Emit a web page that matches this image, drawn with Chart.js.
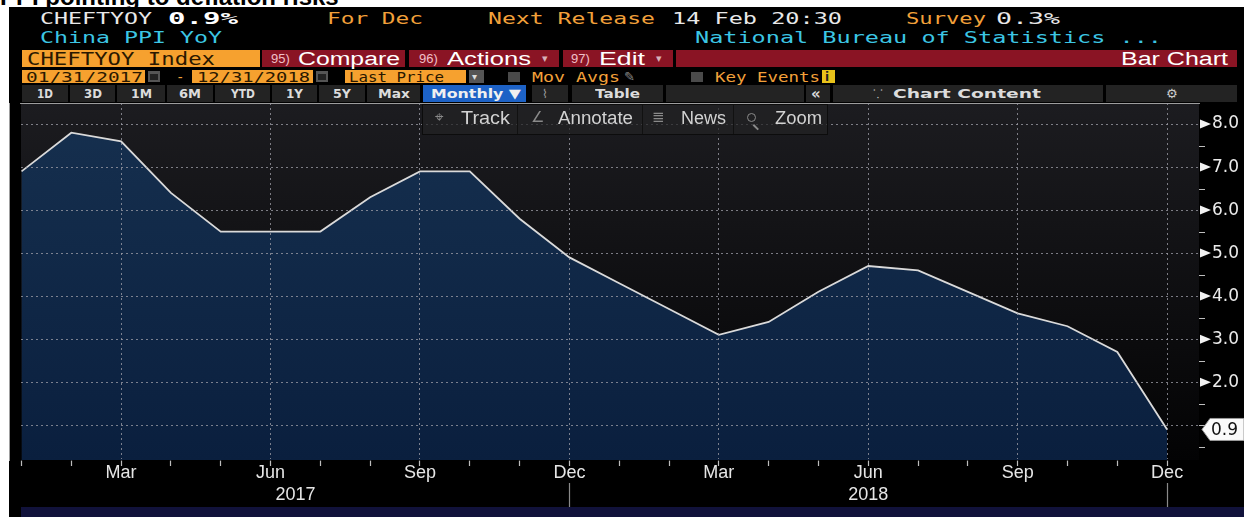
<!DOCTYPE html>
<html><head><meta charset="utf-8">
<script src="https://cdn.jsdelivr.net/npm/chart.js@4"></script>
<style>
html,body{margin:0;padding:0;background:#fff;width:1244px;height:517px;overflow:hidden;position:relative;font-family:"Liberation Sans",Arial,sans-serif}
#title{position:absolute;left:0;top:-15px;font:bold 24px "Liberation Sans",Arial,sans-serif;line-height:24px;color:#000;white-space:nowrap}
#panel{position:absolute;left:9px;top:7px;width:1235px;height:510px;background:#000}
.b{position:absolute}
.t{position:absolute;white-space:nowrap;transform-origin:0 50%}
#cw{position:absolute;left:9px;top:103px;width:1235px;height:404px}
#navy{position:absolute;left:21px;top:507px;width:1223px;height:10px;background:#11123b}
</style></head>
<body>
<div id="title">PPI pointing to deflation risks</div>
<div id="panel"></div>
<div id="hdr"></div>
<div id="cw"><canvas id="c"></canvas></div>
<div id="navy"></div>
<div id="ovl"></div>
<script>
// ---------- data ----------
const categories = ['Jan 2017','Feb 2017','Mar 2017','Apr 2017','May 2017','Jun 2017','Jul 2017','Aug 2017','Sep 2017','Oct 2017','Nov 2017','Dec 2017',
                    'Jan 2018','Feb 2018','Mar 2018','Apr 2018','May 2018','Jun 2018','Jul 2018','Aug 2018','Sep 2018','Oct 2018','Nov 2018','Dec 2018'];
const ppiYoY = [6.9,7.8,7.6,6.4,5.5,5.5,5.5,6.3,6.9,6.9,5.8,4.9,
                4.3,3.7,3.1,3.4,4.1,4.7,4.6,4.1,3.6,3.3,2.7,0.9];
const xTickLabels = ['','','Mar','','','Jun','','','Sep','','','Dec',
                     '','','Mar','','','Jun','','','Sep','','','Dec'];
const yearLabels = ['2017','2018'];
const yearLabelAt = [5.5, 17];
const yearEndAt = [11, 23];
const yMajorTicks = [1,2,3,4,5,6,7,8];
const yMinorTicks = [0.5,1.5,2.5,3.5,4.5,5.5,6.5,7.5];
const yTickLabels = ['','2.0','3.0','4.0','5.0','6.0','7.0','8.0'];

// ---------- header (HTML text) ----------
const hdr = document.getElementById('hdr');
function box(x1,y1,x2,y2,bg,extra){const d=document.createElement('div');d.className='b';
  d.style.cssText=`left:${x1}px;top:${y1}px;width:${x2-x1}px;height:${y2-y1}px;background:${bg};${extra||''}`;hdr.appendChild(d);return d;}
const toScale=[];
function txt(x,yc,s,font,color,w,extra){const d=document.createElement('span');d.className='t';d.textContent=s;
  d.style.cssText=`left:${x}px;top:${yc-12}px;height:24px;font:${font};color:${color};${extra||''}`;
  d.style.lineHeight='24px';hdr.appendChild(d);if(w)toScale.push([d,w]);return d;}
const MONO='"DejaVu Sans Mono",monospace';
const OR='#f2a03a', CY='#3cc6e4', WH='#e8e8e8', RED='#8a1424';
// row 1
txt(40,19,'CHEFTYOY','16px '+MONO,WH,112);
txt(168,19,'0.9%','bold 16px '+MONO,'#fff',70);
txt(327,19,'For Dec','16px '+MONO,OR,96);
txt(488,19,'Next Release','16px '+MONO,OR,167);
txt(672,19,'14 Feb 20:30','16px '+MONO,WH,170);
txt(906,19,'Survey','16px '+MONO,OR,80);
txt(996,19,'0.3%','16px '+MONO,WH,64);
// row 2
txt(40,38,'China PPI YoY','16px '+MONO,CY,182);
txt(695,38,'National Bureau of Statistics ...','16px '+MONO,CY,467);
// row 3
box(22,50,260,67,'#f6a12f');
txt(27,58.5,'CHEFTYOY Index','17px '+MONO,'#2a1800',188);
box(262,50,405,67,RED); txt(271,58.5,'95)','13px "Liberation Sans",Arial','#f0c0c8'); txt(298,58.5,'Compare','18px "Liberation Sans",Arial','#fff',102);
box(409,50,559,67,RED); txt(419,58.5,'96)','13px "Liberation Sans",Arial','#f0c0c8'); txt(447,58.5,'Actions','18px "Liberation Sans",Arial','#fff',84); txt(542,58.5,'▾','11px "DejaVu Sans"','#d8b0b8');
box(563,50,673,67,RED); txt(571,58.5,'97)','13px "Liberation Sans",Arial','#f0c0c8'); txt(599,58.5,'Edit','18px "Liberation Sans",Arial','#fff',46); txt(656,58.5,'▾','11px "DejaVu Sans"','#d8b0b8');
box(676,50,1237,67,RED); txt(1121,58.5,'Bar Chart','18px "Liberation Sans",Arial','#fff',107);
// row 4
box(22,70,145,83,'#f6a12f'); txt(26,76.5,'01/31/2017','14px '+MONO,'#2a1800',117);
box(148,71,160,82,'#555'); box(150,74,158,80,'#222');
txt(176,76.5,'-','14px '+MONO,OR);
box(192,70,313,83,'#f6a12f'); txt(197,76.5,'12/31/2018','14px '+MONO,'#2a1800',113);
box(316,71,328,82,'#555'); box(318,74,326,80,'#222');
box(345,70,466,83,'#f6a12f'); txt(349,76.5,'Last Price','14px '+MONO,'#2a1800',95);
box(469,70,484,83,'#555'); txt(472,76.5,'▾','10px "DejaVu Sans"','#ddd');
box(508,72,520,82,'#4a4a4a');
txt(532,76.5,'Mov Avgs','14px '+MONO,OR,88);
txt(624,76.5,'✎','13px "DejaVu Sans"','#888');
box(691,72,703,82,'#4a4a4a');
txt(715,76.5,'Key Events','14px '+MONO,OR,105);
box(822,70,835,83,'#e8c21a'); txt(825,76.5,'i','bold 12px "DejaVu Sans"','#222');
// row 5 buttons
const btns=[[22,68,'1D',16],[70,115,'3D',18],[117,165,'1M',21],[167,213,'6M',22],[215,270,'YTD',24],[272,317,'1Y',17],[319,365,'5Y',18],[367,420,'Max',32]];
btns.forEach(([a,b,s,w])=>{box(a,85,b,102,'#232323'); txt((a+b)/2-w/2,93.5,s,'bold 12px "DejaVu Sans"','#dcdcdc',w);});
box(423,85,526,102,'#1d62c6'); txt(431,93.5,'Monthly ▼','bold 13px "DejaVu Sans"','#f0f0f0',90);
box(532,85,568,102,'#232323'); txt(542,93.5,'⌇','12px "DejaVu Sans"','#999');
box(572,85,663,102,'#232323'); txt(595,93.5,'Table','bold 12px "DejaVu Sans"','#dcdcdc',45);
box(666,85,804,102,'#232323');
box(806,85,830,102,'#232323'); txt(811,93.5,'«','bold 15px "DejaVu Sans"','#d8d8d8');
box(833,85,1103,102,'#232323'); txt(873,93.5,'⸪','12px "DejaVu Sans"','#bbb'); txt(893,93.5,'Chart Content','bold 12px "DejaVu Sans"','#dcdcdc',148);
box(1106,85,1237,102,'#232323'); txt(1166,93.5,'⚙','13px "DejaVu Sans"','#ccc');

// ---------- chart ----------
const monthIdx = categories.map((c,i)=>i);
const points = ppiYoY.map((v,i)=>({x:i,y:v}));
const labeled = new Set(xTickLabels.map((l,i)=>l?i:-1).filter(i=>i>=0));
const GRID='rgba(160,160,170,0.75)';

const bloombergPlugin = {
  id:'bbg',
  beforeDraw(chart){
    const {ctx, chartArea:a} = chart;
    const g = ctx.createLinearGradient(0,a.top,0,a.bottom);
    g.addColorStop(0,'#1c1c20'); g.addColorStop(1,'#030304');
    ctx.save(); ctx.fillStyle=g; ctx.fillRect(a.left,a.top,a.right-a.left,a.bottom-a.top); ctx.restore();
  },
  afterDraw(chart){
    const {ctx} = chart; const ys = chart.scales.y, xs = chart.scales.x;
    const ax = ys.left;
    ctx.save();
    ctx.strokeStyle='#bdbdbd'; ctx.lineWidth=1;
    yMinorTicks.concat([1]).forEach(v=>{const y=Math.round(ys.getPixelForValue(v))+0.5; ctx.beginPath(); ctx.moveTo(ax,y); ctx.lineTo(ax+6,y); ctx.stroke();});
    ctx.fillStyle='#f2f2f2';
    yMajorTicks.forEach((v,i)=>{ if(!yTickLabels[i]) return; const y=ys.getPixelForValue(v);
      ctx.beginPath(); ctx.moveTo(ax+1,y-4.5); ctx.lineTo(ax+12,y); ctx.lineTo(ax+1,y+4.5); ctx.closePath(); ctx.fill();});
    const last = ppiYoY[ppiYoY.length-1]; const ly = ys.getPixelForValue(last);
    ctx.beginPath(); ctx.moveTo(ax+3,ly); ctx.lineTo(ax+11,ly-11); ctx.lineTo(ax+45,ly-11); ctx.lineTo(ax+45,ly+11); ctx.lineTo(ax+11,ly+11); ctx.closePath();
    ctx.fillStyle='#fafafa'; ctx.fill(); ctx.strokeStyle='#9a9a9a'; ctx.lineWidth=1; ctx.stroke();
    ctx.fillStyle='#111'; ctx.font='17px "DejaVu Sans"'; ctx.textBaseline='middle'; ctx.textAlign='left';
    ctx.fillText(last.toFixed(1), ax+12, ly+1);
    ctx.fillStyle='#e6e6e6'; ctx.font='18px "Liberation Sans", Arial'; ctx.textAlign='center';
    yearLabels.forEach((s,i)=>ctx.fillText(s, xs.getPixelForValue(yearLabelAt[i]), 392));
    ctx.strokeStyle='#8a8a8a'; ctx.lineWidth=1.2;
    yearEndAt.forEach(v=>{const x=Math.round(xs.getPixelForValue(v))+0.5; ctx.beginPath(); ctx.moveTo(x,380); ctx.lineTo(x,404); ctx.stroke();});
    ctx.restore();
  }
};

new Chart(document.getElementById('c'), {
  type:'line',
  data:{ datasets:[{
    label:'CHEFTYOY Index', data:points,
    borderColor:'#dadada', borderWidth:1.8, pointRadius:0, tension:0,
    fill:'start',
    backgroundColor:(ctx)=>{const a=ctx.chart.chartArea; if(!a) return '#102845';
      const g=ctx.chart.ctx.createLinearGradient(0,a.top,0,a.bottom); g.addColorStop(0,'#16304f'); g.addColorStop(1,'#0a1f3e'); return g;}
  }]},
  options:{
    responsive:true, maintainAspectRatio:false, animation:false,
    layout:{padding:{left:12,top:0,right:0,bottom:0}},
    plugins:{legend:{display:false}, tooltip:{enabled:false}},
    scales:{
      x:{ type:'linear', min:-0.01, max:23.64,
        afterBuildTicks:(s)=>{s.ticks=monthIdx.map(v=>({value:v}));},
        afterFit:(s)=>{s.height=47; s.paddingLeft=0; s.paddingRight=0;},
        grid:{ z:1, color:(c)=>labeled.has(c.tick&&c.tick.value)?GRID:'rgba(0,0,0,0)', lineWidth:1,
               drawTicks:true, tickLength:6, tickColor:'#bdbdbd', tickWidth:1.2 },
        border:{ display:true, color:'#c8c8c8', width:1.6, dash:[2,3] },
        ticks:{ autoSkip:false, maxRotation:0, padding:-4, color:'#e6e6e6',
                font:{family:'"Liberation Sans", Arial', size:18},
                callback:(v)=>xTickLabels[v]||'' }
      },
      y:{ position:'right', min:0.19, max:8.49,
        afterBuildTicks:(s)=>{s.ticks=yMinorTicks.concat(yMajorTicks).sort((a,b)=>a-b).map(v=>({value:v}));},
        afterFit:(s)=>{s.width=45; s.paddingTop=0; s.paddingBottom=0;},
        grid:{ z:1, color:(c)=>yMajorTicks.includes(c.tick&&c.tick.value)?GRID:'rgba(0,0,0,0)', lineWidth:1, drawTicks:false },
        border:{ display:true, color:'#c8c8c8', width:1.6, dash:[2,3] },
        ticks:{ padding:13, color:'#ebebeb', font:{family:'"DejaVu Sans"', size:17},
                callback:(v)=>{const i=yMajorTicks.indexOf(v); return i>=0?yTickLabels[i]:'';} }
      }
    }
  },
  plugins:[bloombergPlugin]
});

// ---------- overlay toolbar ----------
const ovl=document.getElementById('ovl');
function obox(x1,y1,x2,y2,css){const d=document.createElement('div');d.className='b';d.style.cssText=`left:${x1}px;top:${y1}px;width:${x2-x1}px;height:${y2-y1}px;${css}`;ovl.appendChild(d);return d;}
obox(422,104,828,135,'background:rgba(34,34,36,0.72);border:1px solid #0c0c0c;box-sizing:border-box');
[517,642,733].forEach(x=>obox(x,105,x+1,134,'background:#111'));
const tools=[[435,'⌖','Track',461,49],[531,'∠','Annotate',558,75],[652,'≣','News',681,45],[0,'','Zoom',775,47]];
tools.forEach(([ix,ic,s,tx,w])=>{
  if(ic){const i=document.createElement('span');i.className='t';i.textContent=ic;i.style.cssText=`left:${ix}px;top:108px;line-height:24px;font:15px "DejaVu Sans";color:#8a8a8a`;ovl.appendChild(i);}
  const t=document.createElement('span');t.className='t';t.textContent=s;t.style.cssText=`left:${tx}px;top:107.5px;line-height:24px;font:18px "Liberation Sans",Arial;color:#d2d2d2`;ovl.appendChild(t);toScale.push([t,w]);
});
obox(747,113,756,122,'border:1.5px solid #8a8a8a;border-radius:50%;box-sizing:border-box');
obox(754,124,761,125.5,'background:#8a8a8a;transform:rotate(45deg);transform-origin:0 0');

function fit(){toScale.forEach(([el,w])=>{el.style.transform='none';const nw=el.getBoundingClientRect().width;if(nw>0)el.style.transform=`scaleX(${w/nw})`;});}
fit(); if(document.fonts&&document.fonts.ready)document.fonts.ready.then(fit);
</script>
</body></html>
